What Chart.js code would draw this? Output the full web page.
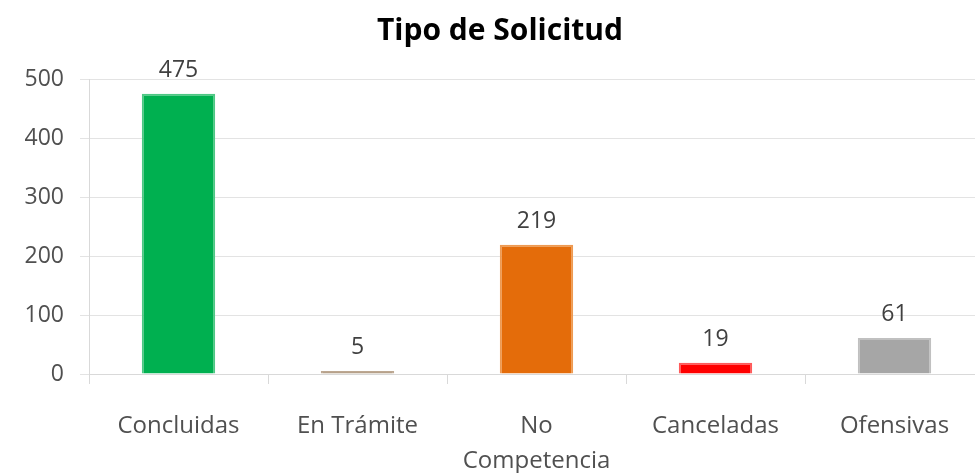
<!DOCTYPE html>
<html>
<head>
<meta charset="utf-8">
<script src="https://cdn.jsdelivr.net/npm/chart.js@4/dist/chart.umd.min.js"></script>
<style>
  html, body { margin: 0; padding: 0; background: #fff; overflow: hidden; }
  #wrap { width: 1000px; height: 473px; }
</style>
</head>
<body>
<div id="wrap"><canvas id="mychart" width="1000" height="473"></canvas></div>
<script>
// --- data ---
const categories = ["Concluidas", "En Trámite", ["No", "Competencia"], "Canceladas", "Ofensivas"];
const values = [475, 5, 219, 19, 61];
const barColors = ["#00B050", "#A48A6E", "#E46C0A", "#FF0000", "#A6A6A6"];
const barEdges = ["#4DC884", "#BDA892", "#EE9A52", "#FF5A5A", "#C0C0C0"];
const yTicks = [0, 100, 200, 300, 400, 500];

const font = "'Open Sans', sans-serif";

// value labels above each bar
const valueLabels = {
  id: 'valueLabels',
  afterDatasetsDraw(chart) {
    const ctx = chart.ctx;
    const meta = chart.getDatasetMeta(0);
    ctx.save();
    ctx.font = "23px " + font;
    ctx.fillStyle = "#404040";
    ctx.textAlign = "center";
    ctx.textBaseline = "alphabetic";
    meta.data.forEach((bar, i) => {
      ctx.fillText(values[i], bar.x, bar.y - 17);
    });
    ctx.restore();
  }
};

const chart = document.getElementById('mychart').getContext('2d');
const myChart = new Chart(chart, {
  type: 'bar',
  data: {
    labels: categories,
    datasets: [{
      data: values,
      backgroundColor: barColors,
      borderColor: barEdges,
      borderWidth: 2,
      categoryPercentage: 1,
      barPercentage: 0.41
    }]
  },
  options: {
    responsive: false,
    animation: false,
    layout: { padding: { left: 16, right: 16, top: 0, bottom: 0 } },
    plugins: {
      legend: { display: false },
      tooltip: { enabled: false },
      title: {
        display: true,
        text: "Tipo de Solicitud",
        color: "#000",
        font: { family: font, size: 30, weight: 'bold', lineHeight: 1.2 },
        padding: { top: 13, bottom: 30 }
      }
    },
    scales: {
      x: {
        grid: { drawOnChartArea: false, drawTicks: true, tickLength: 10, color: "#d9d9d9", offset: true },
        border: { color: "#d9d9d9" },
        ticks: {
          color: "#505050",
          padding: 25,
          maxRotation: 0,
          autoSkip: false,
          font: { family: font, size: 24, lineHeight: 1.45 }
        },
        afterFit(scale) { scale.height = 99; }
      },
      y: {
        min: 0,
        max: 500,
        afterBuildTicks(scale) { scale.ticks = yTicks.map(v => ({ value: v })); },
        grid: { color: "#e3e3e3", tickLength: 9 },
        border: { color: "#d9d9d9" },
        ticks: {
          color: "#505050",
          padding: 16,
          font: { family: font, size: 23 }
        },
        afterFit(scale) { scale.width = 73; }
      }
    }
  },
  plugins: [valueLabels]
});
</script>
</body>
</html>
